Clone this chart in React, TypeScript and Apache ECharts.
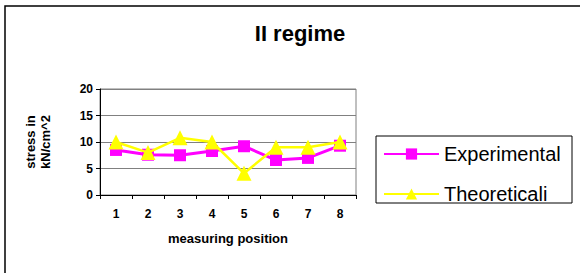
import React, { useEffect, useRef } from "react";
import * as echarts from "echarts";

const title = "II regime";
const categories = ["1", "2", "3", "4", "5", "6", "7", "8"];
const experimental = [8.5, 7.6, 7.5, 8.3, 9.2, 6.6, 7.0, 9.3];
const theoretical = [10, 8, 10.8, 10, 4.1, 9, 9, 10];
const seriesNames = ["Experimental", "Theoreticali"];
const yAxisName = "stress in\nkN/cm^2";
const xAxisName = "measuring position";

const FONT = "Arial, 'Liberation Sans', sans-serif";

export default function App() {
  const ref = useRef<HTMLDivElement>(null);
  useEffect(() => {
    if (!ref.current) return;
    const chart = echarts.init(ref.current, null, { renderer: "svg" });
    chart.setOption({
      animation: false,
      backgroundColor: "#ffffff",
      textStyle: { fontFamily: FONT },
      title: {
        text: title,
        left: 295,
        top: 17,
        textAlign: "center",
        textStyle: { fontFamily: FONT, fontSize: 22, fontWeight: "bold", color: "#000" },
      },
      graphic: [
        {
          type: "rect",
          shape: { x: 5, y: 6, width: 620, height: 320 },
          style: { fill: "none", stroke: "#000", lineWidth: 1.5 },
          z: 0,
        },
        {
          type: "rect",
          shape: { x: 376, y: 136, width: 196, height: 67 },
          style: { fill: "#fff", stroke: "#000", lineWidth: 1 },
          z: 1,
        },
      ],
      legend: {
        orient: "vertical",
        left: 383,
        top: 144,
        padding: 0,
        itemWidth: 55,
        itemHeight: 14,
        itemGap: 20,
        z: 5,
        data: seriesNames,
        textStyle: { fontFamily: FONT, fontSize: 20, color: "#000" },
      },
      grid: {
        left: 100,
        top: 89,
        width: 256,
        height: 106,
        show: true,
        borderColor: "#808080",
        borderWidth: 1,
      },
      xAxis: {
        type: "category",
        data: categories,
        boundaryGap: true,
        name: xAxisName,
        nameLocation: "middle",
        nameGap: 37,
        nameTextStyle: { fontFamily: FONT, fontSize: 13, fontWeight: "bold", color: "#000" },
        axisLine: { lineStyle: { color: "#000", width: 1 } },
        axisTick: { show: true, length: 4, interval: 0, lineStyle: { color: "#000" } },
        axisLabel: { margin: 13, fontFamily: FONT, fontSize: 12, fontWeight: "bold", color: "#000" },
        splitLine: { show: false },
      },
      yAxis: {
        type: "value",
        min: 0,
        max: 20,
        interval: 5,
        name: yAxisName,
        nameLocation: "middle",
        nameRotate: 90,
        nameGap: 47,
        nameTextStyle: { fontFamily: FONT, fontSize: 13, fontWeight: "bold", color: "#000", lineHeight: 15 },
        axisLine: { show: true, lineStyle: { color: "#000", width: 1 } },
        axisTick: { show: true, length: 4, lineStyle: { color: "#000" } },
        axisLabel: { margin: 7, fontFamily: FONT, fontSize: 12, fontWeight: "bold", color: "#000" },
        splitLine: { show: true, lineStyle: { color: "#808080", width: 1 } },
      },
      series: [
        {
          name: seriesNames[0],
          type: "line",
          data: experimental,
          color: "#FF00FF",
          symbol: "rect",
          symbolSize: 12,
          lineStyle: { color: "#FF00FF", width: 3 },
          itemStyle: { color: "#FF00FF" },
          z: 3,
        },
        {
          name: seriesNames[1],
          type: "line",
          data: theoretical,
          color: "#FFFF00",
          symbol: "triangle",
          symbolSize: 15,
          lineStyle: { color: "#FFFF00", width: 2.5 },
          itemStyle: { color: "#FFFF00" },
          z: 4,
        },
      ],
    });
    return () => chart.dispose();
  }, []);
  return (
    <div
      ref={ref}
      style={{ position: "fixed", left: 0, top: 0, width: 580, height: 273 }}
    />
  );
}
